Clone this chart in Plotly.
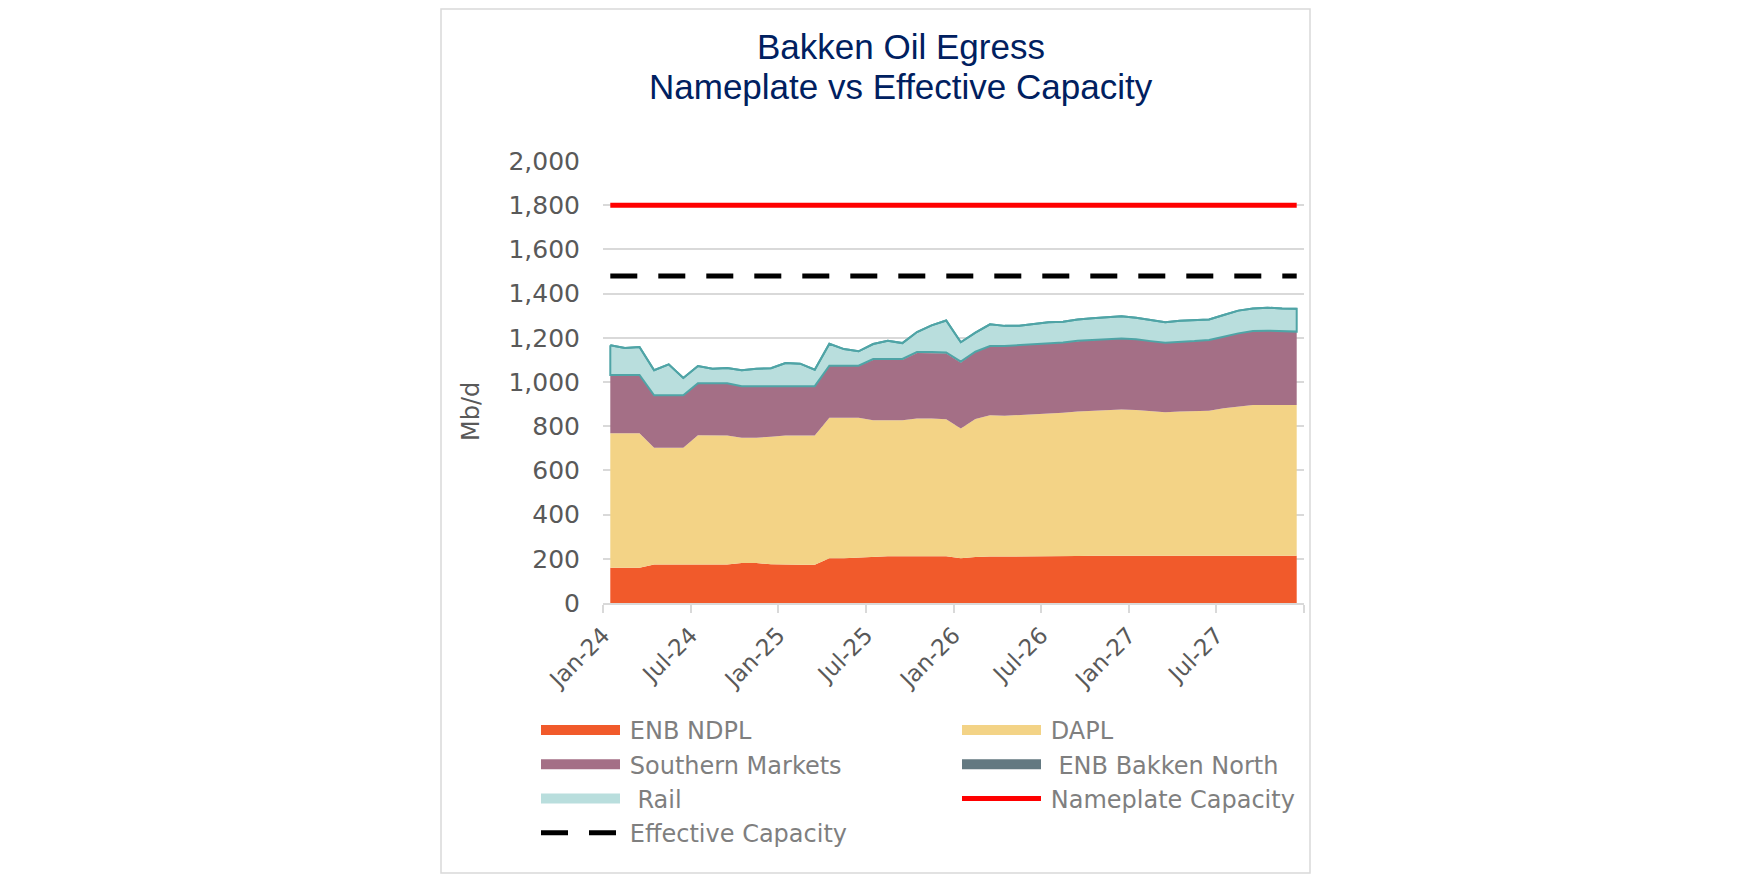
import plotly.graph_objects as go
import pandas as pd

# ---------------- data ----------------
months = [d.strftime('%b-%y') for d in pd.date_range('2024-01-01', periods=48, freq='MS')]

enb_ndpl = [159, 159, 159, 174, 174, 174, 174, 174, 174, 181, 181, 175,
            173, 173, 173, 203, 203, 206, 212, 212, 212, 212, 212, 212,
            202, 208, 210, 210, 210, 210, 213, 213, 213, 214, 214, 214,
            214, 214, 214, 214, 214, 214, 214, 214, 214, 214, 214, 214]
dapl = [609, 609, 609, 528, 528, 528, 585, 585, 584, 567, 567, 577,
        585, 585, 585, 635, 635, 632, 615, 615, 615, 623, 623, 619,
        588, 625, 640, 637, 640, 645, 645, 648, 654, 656, 659, 662,
        659, 655, 649, 652, 653, 656, 667, 674, 682, 682, 682, 682]
southern_markets = [264, 264, 264, 238, 238, 238, 235, 235, 236, 233, 233, 229,
                    223, 223, 223, 236, 236, 236, 272, 272, 272, 296, 296, 298,
                    297, 304, 313, 316, 317, 317, 317, 318, 320, 320, 321, 321,
                    320, 316, 315, 315, 318, 320, 324, 332, 335, 336, 335, 332]
enb_bakken_north = [0, 0, 0, 0, 0, 0, 0, 0, 0, 0, 0, 0,
                    0, 0, 0, 0, 0, 0, 5, 5, 5, 5, 5, 5,
                    5, 0, 0, 0, 0, 0, 0, 0, 0, 0, 0, 0,
                    0, 0, 0, 0, 0, 0, 0, 0, 0, 0, 0, 0]
rail = [134, 122, 126, 113, 140, 78, 78, 66, 69, 72, 79, 81,
        105, 102, 75, 99, 75, 65, 68, 83, 72, 90, 120, 144,
        88, 86, 98, 91, 88, 90, 95, 94, 96, 99, 101, 101,
        98, 95, 92, 96, 95, 93, 98, 103, 102, 104, 102, 104]
nameplate_capacity = 1800
effective_capacity = 1480

tick_months = ['Jan-24', 'Jul-24', 'Jan-25', 'Jul-25', 'Jan-26', 'Jul-26', 'Jan-27', 'Jul-27']

# ---------------- styles ----------------
C_NDPL = '#f15a2b'
C_DAPL = '#f3d386'
C_SOUTH = '#a46f86'
C_BN = '#637981'
C_RAIL = '#b9dedd'
C_RAIL_LINE = '#4fa4a6'
FONT = 'DejaVu Sans'
SP = '\u2009'  # small gap between legend symbol and text

idx = list(range(len(months)))
fig = go.Figure()

series = [
    ('ENB NDPL', enb_ndpl, C_NDPL),
    ('DAPL', dapl, C_DAPL),
    ('Southern Markets', southern_markets, C_SOUTH),
    (' ENB Bakken North', enb_bakken_north, C_BN),
]
for name, vals, col in series:
    fig.add_trace(go.Scatter(
        x=idx, y=vals, name=name, stackgroup='one', mode='lines',
        line=dict(width=0, color=col), fillcolor=col, showlegend=False,
        customdata=months, hovertemplate='%{customdata}: %{y}<extra>' + name + '</extra>'))

fig.add_trace(go.Scatter(
    x=idx, y=rail, name=' Rail', stackgroup='one', mode='lines',
    line=dict(width=2, color=C_RAIL_LINE), fillcolor=C_RAIL, showlegend=False,
    customdata=months, hovertemplate='%{customdata}: %{y}<extra>Rail</extra>'))

# outline of the rail band (bottom + sides)
base = [a + b + c + d for a, b, c, d in zip(enb_ndpl, dapl, southern_markets, enb_bakken_north)]
top = [b + r for b, r in zip(base, rail)]
fig.add_trace(go.Scatter(
    x=idx + idx[::-1] + [idx[0]], y=top + base[::-1] + [top[0]],
    mode='lines', line=dict(width=2, color=C_RAIL_LINE),
    showlegend=False, hoverinfo='skip'))

fig.add_trace(go.Scatter(
    x=idx, y=[nameplate_capacity] * len(idx), mode='lines', name='Nameplate Capacity',
    line=dict(color='#ff0000', width=5), showlegend=False))
fig.add_trace(go.Scatter(
    x=idx, y=[effective_capacity] * len(idx), mode='lines', name='Effective Capacity',
    line=dict(color='#000000', width=5, dash='27px,21px'), showlegend=False))

# legend entries (two columns -> two legends)
leg1 = [('ENB NDPL', dict(color=C_NDPL, width=14)),
        ('Southern Markets', dict(color=C_SOUTH, width=14)),
        (' Rail', dict(color=C_RAIL, width=14)),
        ('Effective Capacity', dict(color='#000000', width=5, dash='27px,21px'))]
leg2 = [('DAPL', dict(color=C_DAPL, width=14)),
        (' ENB Bakken North', dict(color=C_BN, width=14)),
        ('Nameplate Capacity', dict(color='#ff0000', width=5))]
for name, ln in leg1:
    fig.add_trace(go.Scatter(x=[None], y=[None], mode='lines', name=SP + name, line=ln,
                             legend='legend', showlegend=True))
for name, ln in leg2:
    fig.add_trace(go.Scatter(x=[None], y=[None], mode='lines', name=SP + name, line=ln,
                             legend='legend2', showlegend=True))

# ---------------- layout ----------------
# the page body has an 8px margin; pixel targets below are page coordinates
OFF = 8
W, H = 1750 - OFF, 875 - OFF
L, R, T, B = 603 - OFF, 446, 161 - OFF, 272
PW, PH = W - L - R, H - T - B


def px(xp):
    return (xp - OFF - L) / PW


def py(yp):
    return (OFF + T + PH - yp) / PH


legend_common = dict(orientation='v', xanchor='left', yanchor='top', itemwidth=79,
                      font=dict(family=FONT, size=24, color='#7f7f7f'),
                      bgcolor='rgba(0,0,0,0)', traceorder='normal')

TITLE_FONT = dict(family='Liberation Sans', size=35, color='#002060')

fig.update_layout(
    width=W, height=H,
    margin=dict(l=L, r=R, t=T, b=B, autoexpand=False),
    paper_bgcolor='white', plot_bgcolor='white',
    showlegend=True,
    legend=dict(x=px(536), y=py(708), **legend_common),
    legend2=dict(x=px(957), y=py(708), **legend_common),
    xaxis=dict(range=[-0.5, len(idx) - 0.5],
               tickvals=[months.index(m) - 0.5 for m in tick_months] + [len(idx) - 0.5],
               ticktext=tick_months + [''],
               tickangle=-45, ticks='outside', ticklen=8, tickwidth=1.5, tickcolor='#d9d9d9',
               showline=True, linecolor='#d9d9d9', linewidth=1.5,
               showgrid=False, zeroline=False,
               tickfont=dict(family=FONT, size=23, color='#595959')),
    yaxis=dict(range=[0, 2000], dtick=200, tickformat=',', showgrid=True,
               gridcolor='#d9d9d9', gridwidth=1.5, zeroline=False, showline=False,
               ticks='', ticklabelstandoff=22,
               tickfont=dict(family=FONT, size=25, color='#595959')),
    annotations=[
        dict(text='Bakken Oil Egress', x=px(901), y=py(46), xref='paper', yref='paper',
             showarrow=False, xanchor='center', yanchor='middle', font=TITLE_FONT),
        dict(text='Nameplate vs Effective Capacity', x=px(901), y=py(87), xref='paper', yref='paper',
             showarrow=False, xanchor='center', yanchor='middle', font=TITLE_FONT),
        dict(text='Mb/d', x=px(471), y=py(412), xref='paper', yref='paper', textangle=-90,
             showarrow=False, xanchor='center', yanchor='middle',
             font=dict(family=FONT, size=24, color='#595959')),
    ],
    shapes=[dict(type='rect', xref='paper', yref='paper',
                 x0=px(441), x1=px(1310), y0=py(873), y1=py(OFF + 1),
                 line=dict(color='#d9d9d9', width=1.5), fillcolor='rgba(0,0,0,0)', layer='below')],
)

fig.write_html('out.html')
